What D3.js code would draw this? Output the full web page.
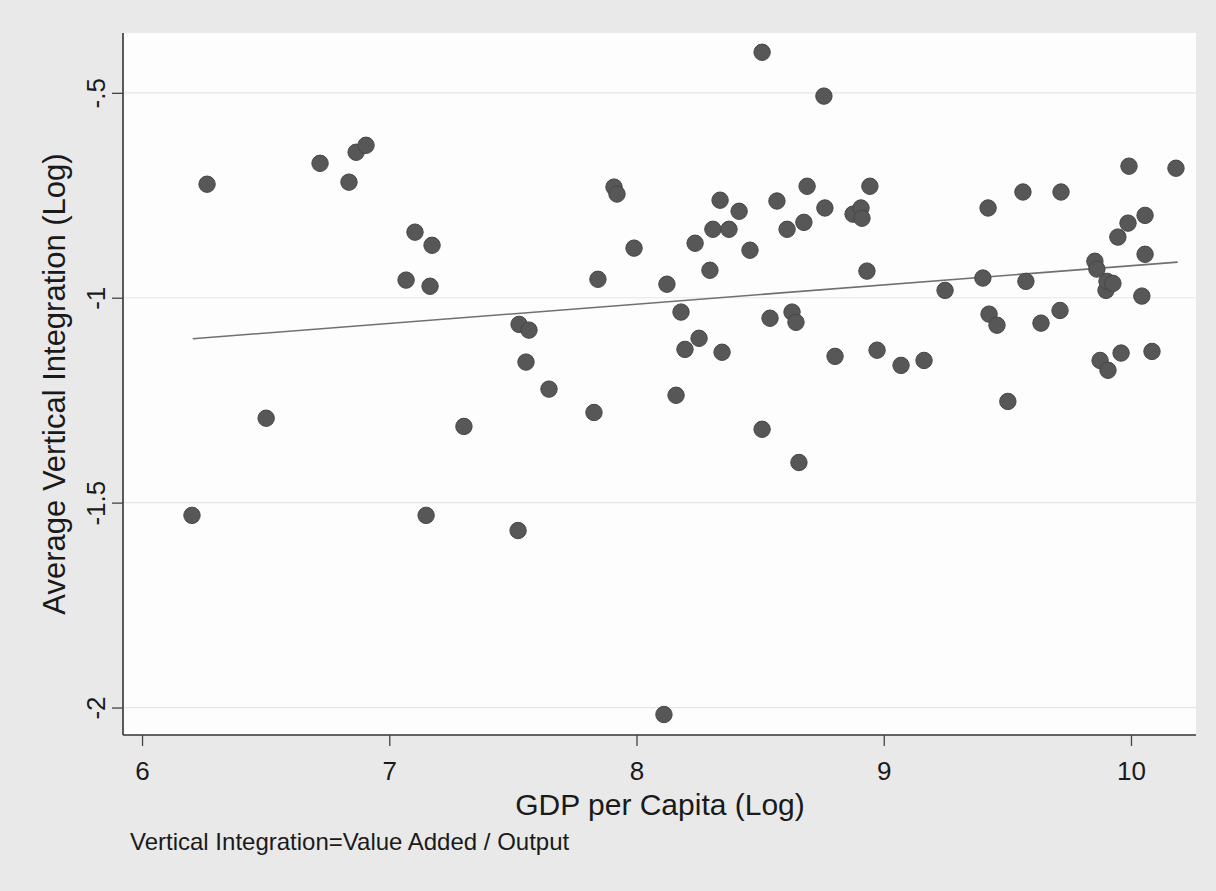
<!DOCTYPE html>
<html>
<head>
<meta charset="utf-8">
<script src="https://cdn.jsdelivr.net/npm/d3@7"></script>
<style>
    body { margin: 0; background: #eaeaea; }
    text { font-family: "Liberation Sans", Arial, sans-serif; fill: #1a1a1a; }
</style>
</head>
<body>
<div class="chart"></div>
<script>
// GDP per capita (log), x
var gdp = [6.202, 6.263, 6.502, 6.720, 6.837, 6.866, 6.906, 7.068, 7.104, 7.173,
    7.165, 7.149, 7.302, 7.525, 7.565, 7.553, 7.521, 7.646, 7.828, 7.844,
    7.909, 7.921, 7.990, 8.123, 8.111, 8.160, 8.180, 8.196, 8.237, 8.253,
    8.297, 8.309, 8.338, 8.346, 8.374, 8.415, 8.459, 8.508, 8.508, 8.540,
    8.568, 8.609, 8.629, 8.645, 8.657, 8.677, 8.690, 8.758, 8.762, 8.803,
    8.876, 8.908, 8.912, 8.932, 8.944, 8.973, 9.070, 9.163, 9.248, 9.401,
    9.422, 9.426, 9.458, 9.502, 9.563, 9.575, 9.636, 9.713, 9.717, 9.854,
    9.862, 9.875, 9.899, 9.903, 9.907, 9.927, 9.947, 9.960, 9.988, 9.992,
    10.044, 10.057, 10.057, 10.085, 10.182];

// average vertical integration (log), y
var integration = [-1.531, -0.723, -1.294, -0.672, -0.718, -0.645, -0.628, -0.957, -0.840, -0.872,
    -0.972, -1.531, -1.314, -1.065, -1.079, -1.157, -1.568, -1.223, -1.280, -0.955,
    -0.730, -0.747, -0.879, -0.967, -2.017, -1.238, -1.035, -1.126, -0.867, -1.099,
    -0.933, -0.833, -0.762, -1.133, -0.833, -0.789, -0.884, -0.401, -1.321, -1.050,
    -0.764, -0.833, -1.035, -1.060, -1.402, -0.816, -0.728, -0.508, -0.781, -1.143,
    -0.796, -0.781, -0.806, -0.935, -0.728, -1.128, -1.165, -1.153, -0.982, -0.952,
    -0.781, -1.040, -1.067, -1.253, -0.742, -0.960, -1.062, -1.031, -0.742, -0.911,
    -0.930, -1.153, -0.982, -0.960, -1.177, -0.965, -0.852, -1.135, -0.818, -0.679,
    -0.996, -0.799, -0.894, -1.131, -0.684];

// linear fit
var fitX = [6.205, 10.189];
var fitY = [-1.100, -0.913];

var xTicks = [6, 7, 8, 9, 10];
var yTicks = [-2, -1.5, -1, -0.5];
var yTickLabels = ["-2", "-1.5", "-1", "-.5"];

var svgWidth = 1216;
var svgHeight = 891;

var plot = { left: 123, right: 1196, top: 33, bottom: 735 };

var svg = d3.select(".chart")
    .append("svg")
    .attr("width", svgWidth)
    .attr("height", svgHeight)
    .style("display", "block");

svg.append("rect")
    .attr("width", svgWidth)
    .attr("height", svgHeight)
    .attr("fill", "#e9e9e9");

svg.append("rect")
    .attr("x", plot.left)
    .attr("y", plot.top)
    .attr("width", plot.right - plot.left)
    .attr("height", plot.bottom - plot.top)
    .attr("fill", "#fdfdfd");

var xScale = d3.scaleLinear()
    .domain([5.923, 10.263])
    .range([plot.left, plot.right]);

var yScale = d3.scaleLinear()
    .domain([-2.067, -0.354])
    .range([plot.bottom, plot.top]);

// faint grid lines
svg.append("g")
    .selectAll("line")
    .data(yTicks)
    .enter()
    .append("line")
    .attr("x1", plot.left)
    .attr("x2", plot.right)
    .attr("y1", d => yScale(d))
    .attr("y2", d => yScale(d))
    .attr("stroke", "#e6e6e6")
    .attr("stroke-width", 1.2);

// fit line
var line = d3.line()
    .x(d => xScale(d[0]))
    .y(d => yScale(d[1]));

svg.append("path")
    .datum(d3.zip(fitX, fitY))
    .attr("d", line)
    .attr("fill", "none")
    .attr("stroke", "#707070")
    .attr("stroke-width", 1.6);

// points
svg.append("g")
    .selectAll("circle")
    .data(d3.zip(gdp, integration))
    .enter()
    .append("circle")
    .attr("cx", d => xScale(d[0]))
    .attr("cy", d => yScale(d[1]))
    .attr("r", 8.2)
    .attr("fill", "#575757")
    .attr("stroke", "#464646")
    .attr("stroke-width", 1);

// axes
var bottomAxis = d3.axisBottom(xScale)
    .tickValues(xTicks)
    .tickFormat(d3.format("d"))
    .tickSize(11)
    .tickSizeOuter(0);

var xAxis = svg.append("g")
    .attr("transform", `translate(0, ${plot.bottom})`)
    .call(bottomAxis);

xAxis.select(".domain")
    .attr("stroke", "#333")
    .attr("stroke-width", 1.6)
    .attr("d", `M${plot.left},0H${plot.right}`);
xAxis.selectAll(".tick line").attr("stroke", "#444").attr("stroke-width", 1.3);
xAxis.selectAll(".tick text")
    .attr("y", 45)
    .attr("dy", 0)
    .style("font-size", "26px")
    .style("font-family", "'Liberation Sans', Arial, sans-serif")
    .attr("fill", "#1a1a1a");

var leftAxis = d3.axisLeft(yScale)
    .tickValues(yTicks)
    .tickFormat((d, i) => yTickLabels[i])
    .tickSize(11)
    .tickSizeOuter(0);

var yAxis = svg.append("g")
    .attr("transform", `translate(${plot.left}, 0)`)
    .call(leftAxis);

yAxis.select(".domain")
    .attr("stroke", "#333")
    .attr("stroke-width", 1.6)
    .attr("d", `M0,${plot.top}V${plot.bottom}`);
yAxis.selectAll(".tick line").attr("stroke", "#444").attr("stroke-width", 1.3);
yAxis.selectAll(".tick text")
    .attr("transform", "rotate(-90)")
    .attr("x", 0)
    .attr("y", -18)
    .attr("dy", 0)
    .attr("text-anchor", "middle")
    .style("font-size", "26px")
    .style("font-family", "'Liberation Sans', Arial, sans-serif")
    .attr("fill", "#1a1a1a");

// axis titles
svg.append("text")
    .attr("x", 660)
    .attr("y", 815)
    .attr("text-anchor", "middle")
    .style("font-size", "30px")
    .text("GDP per Capita (Log)");

svg.append("text")
    .attr("transform", "rotate(-90)")
    .attr("x", -384)
    .attr("y", 65)
    .attr("text-anchor", "middle")
    .style("font-size", "31px")
    .text("Average Vertical Integration (Log)");

// note
svg.append("text")
    .attr("x", 130)
    .attr("y", 850)
    .style("font-size", "24px")
    .text("Vertical Integration=Value Added / Output");
</script>
</body>
</html>
